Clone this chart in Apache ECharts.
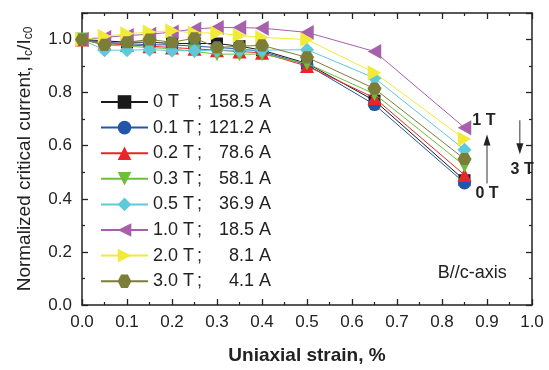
<!DOCTYPE html>
<html><head><meta charset="utf-8">
<script src="https://cdn.jsdelivr.net/npm/echarts@6/dist/echarts.min.js"></script>
<style>html,body{margin:0;padding:0;background:#fff}#c{width:549px;height:370px}</style>
</head><body><div id="c"></div>
<script>
var strain = [0, 0.05, 0.1, 0.15, 0.2, 0.25, 0.3, 0.35, 0.4, 0.5, 0.65, 0.85];
var fields = ['0 T', '0.1 T', '0.2 T', '0.3 T', '0.5 T', '1.0 T', '2.0 T', '3.0 T'];
var ic0 = ['158.5 A', '121.2 A', '78.6 A', '58.1 A', '36.9 A', '18.5 A', '8.1 A', '4.1 A'];
var s0T  = [1.0, 0.995, 0.99, 0.99, 0.985, 0.985, 0.985, 0.975, 0.96, 0.91, 0.77, 0.47];
var s01T = [1.0, 0.99, 0.985, 0.98, 0.98, 0.975, 0.97, 0.965, 0.955, 0.905, 0.755, 0.46];
var s02T = [1.0, 0.985, 0.98, 0.975, 0.97, 0.965, 0.96, 0.955, 0.95, 0.9, 0.78, 0.49];
var s03T = [1.0, 0.98, 0.975, 0.97, 0.965, 0.955, 0.945, 0.945, 0.945, 0.91, 0.795, 0.525];
var s05T = [1.0, 0.96, 0.96, 0.962, 0.958, 0.958, 0.96, 0.96, 0.96, 0.962, 0.855, 0.585];
var s10T = [1.0, 1.008, 1.015, 1.02, 1.028, 1.04, 1.045, 1.045, 1.043, 1.027, 0.955, 0.668];
var s20T = [1.0, 1.012, 1.022, 1.028, 1.033, 1.025, 1.025, 1.015, 1.008, 1.0, 0.875, 0.625];
var s30T = [1.0, 0.98, 0.99, 1.0, 0.99, 1.005, 0.97, 0.975, 0.978, 0.933, 0.815, 0.55];
var xTicks = [0, 0.1, 0.2, 0.3, 0.4, 0.5, 0.6, 0.7, 0.8, 0.9, 1.0];
var yTicks = [0, 0.2, 0.4, 0.6, 0.8, 1.0];

var allSeries = [s0T, s01T, s02T, s03T, s05T, s10T, s20T, s30T];
var colors = ['#1a1a1a', '#2356a8', '#e8252a', '#6cbf3e', '#5ec9d9', '#a85fac', '#f2ea3a', '#7d7d3a'];
var symbols = ['rect', 'circle', 'triangle', 'triangle', 'diamond',
  'path://M0,5 L9,0 L9,10 Z', 'path://M0,0 L9,5 L0,10 Z',
  'path://M2.5,0 L7.5,0 L10,4.33 L7.5,8.66 L2.5,8.66 L0,4.33 Z'];
var rot = [0, 0, 0, 180, 0, 0, 0, 0];
var sizes = [12, 13, 14, 14, 14, 15, 15, 14];
var FONT = 'Liberation Sans, Arial, sans-serif';

var series = allSeries.map(function (vals, i) {
  return {
    type: 'line', name: fields[i],
    data: strain.map(function (x, k) { return [x, vals[k]]; }),
    symbol: symbols[i], symbolRotate: rot[i], symbolSize: sizes[i],
    symbolKeepAspect: true,
    lineStyle: { color: colors[i], width: 1 },
    itemStyle: { color: colors[i] },
    z: 2 + i
  };
});

function axisCommon() {
  return {
    axisLine: { show: true, onZero: false, lineStyle: { color: '#222', width: 1.5 } },
    axisTick: { show: true, inside: true, length: 6, lineStyle: { color: '#222', width: 1.3 } },
    minorTick: { show: true, splitNumber: 2, length: 3, lineStyle: { color: '#222', width: 1.2 } },
    splitLine: { show: false }
  };
}
var xa = Object.assign(axisCommon(), {
  type: 'value', min: xTicks[0], max: xTicks[xTicks.length - 1], interval: 0.1,
  name: 'Uniaxial strain, %', nameLocation: 'middle', nameGap: 41,
  nameTextStyle: { fontFamily: FONT, fontSize: 19, fontWeight: 'bold', color: '#222' },
  axisLabel: { fontFamily: FONT, fontSize: 17, color: '#222', margin: 9,
    formatter: function (v) { return v.toFixed(1); } }
});
var xb = Object.assign(axisCommon(), {
  type: 'value', position: 'top', min: 0, max: 1, interval: 0.1, axisLabel: { show: false }
});
var ya = Object.assign(axisCommon(), {
  type: 'value', min: 0, max: 1.1, interval: 0.2,
  name: 'Normalized critical current, I{sub|c}/I{sub|c0}', nameLocation: 'middle', nameGap: 47,
  nameTextStyle: { fontFamily: FONT, fontSize: 19, color: '#222',
    rich: { sub: { fontFamily: FONT, fontSize: 12, color: '#222', verticalAlign: 'bottom', padding: [9, 0, 0, 0] } } },
  axisLabel: { fontFamily: FONT, fontSize: 17, color: '#222', margin: 10, showMaxLabel: false,
    formatter: function (v) { return yTicks.indexOf(Math.round(v * 10) / 10) >= 0 ? v.toFixed(1) : ''; } }
});
var yb = Object.assign(axisCommon(), {
  type: 'value', position: 'right', min: 0, max: 1.1, interval: 0.2, axisLabel: { show: false }
});

var chart = echarts.init(document.getElementById('c'), null, { renderer: 'canvas' });
chart.setOption({
  animation: false,
  backgroundColor: '#fff',
  grid: { left: 82, right: 17, top: 13, bottom: 57 },
  xAxis: [xa, xb],
  yAxis: [ya, yb],
  legend: {
    orient: 'vertical', left: 100, top: 92, padding: 0,
    itemWidth: 47, itemHeight: 17, itemGap: 5.6,
    data: fields,
    textStyle: { fontFamily: FONT, fontSize: 18, color: '#222', lineHeight: 20,
      rich: {
        a: { fontFamily: FONT, fontSize: 18, color: '#222', width: 44, lineHeight: 20 },
        b: { fontFamily: FONT, fontSize: 18, color: '#222', width: 8, lineHeight: 20 },
        c: { fontFamily: FONT, fontSize: 18, color: '#222', width: 66, align: 'right', lineHeight: 20 }
      } },
    formatter: function (name) {
      var i = fields.indexOf(name);
      return '{a|' + name + '}{b|;}{c|' + ic0[i] + '}';
    }
  },
  series: series
});

function px(x, y) { return chart.convertToPixel({ xAxisIndex: 0, yAxisIndex: 0 }, [x, y]); }
function arrow(x, y1, y2) {
  var a = px(x, y1), b = px(x, y2);
  var dir = b[1] < a[1] ? -1 : 1;
  return [
    { type: 'line', shape: { x1: a[0], y1: a[1], x2: b[0], y2: b[1] - dir * 8 },
      style: { stroke: '#333', lineWidth: 1 } },
    { type: 'polygon', shape: { points: [[b[0], b[1]], [b[0] - 3.5, b[1] - dir * 11], [b[0] + 3.5, b[1] - dir * 11]] },
      style: { fill: '#222' } }
  ];
}
function label(x, y, t, bold, size) {
  var p = px(x, y);
  return { type: 'text', x: p[0], y: p[1], z: 100,
    style: { text: t, fill: '#222', font: (bold ? 'bold ' : '') + size + 'px ' + FONT,
      textAlign: 'center', textVerticalAlign: 'middle' } };
}
var g = [];
g = g.concat(arrow(0.9, 0.458, 0.642));
g = g.concat(arrow(0.973, 0.696, 0.568));
g.push(label(0.893, 0.696, '1 T', true, 16));
g.push(label(0.9, 0.418, '0 T', true, 16));
g.push(label(0.978, 0.509, '3 T', true, 16));
g.push(label(0.867, 0.121, 'B//c-axis', false, 18));
chart.setOption({ graphic: g });
</script>
</body></html>
